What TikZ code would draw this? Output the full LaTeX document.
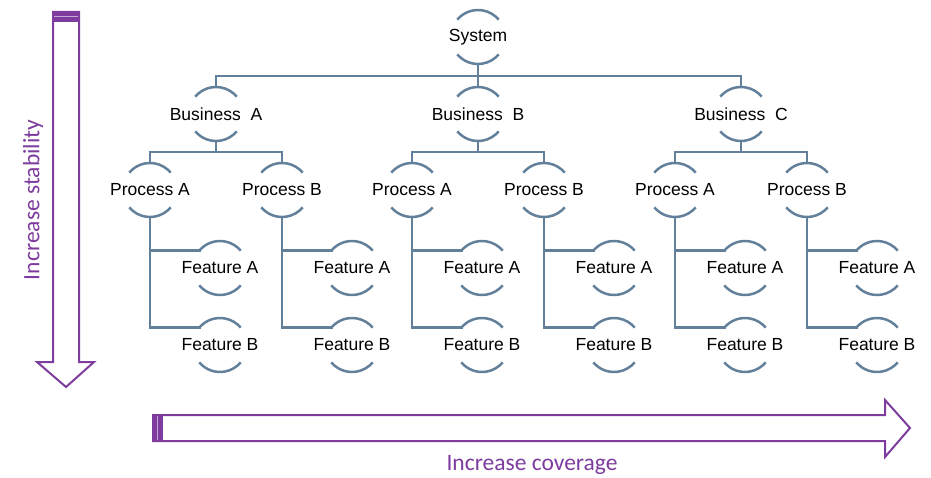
\documentclass[tikz,border=0pt]{standalone}
\usepackage{fontspec}
\setmainfont{Liberation Sans}
\newfontfamily\notefont{Carlito}
\usetikzlibrary{calc}
\definecolor{TreeClr}{RGB}{98,128,154}
\definecolor{ArrowClr}{RGB}{125,60,158}

% Two arcs round a node of the tree.
\newcommand\stagearcs[1]{%
  \draw[rim] ($(#1)+(140:\rr)$) arc[start angle=140,end angle=40,radius=\rr];
  \draw[rim] ($(#1)+(220:\rr)$) arc[start angle=220,end angle=320,radius=\rr];}

\begin{document}
\begin{tikzpicture}[x=1pt,y=1pt,
  link/.style={line width=2.5pt,color=TreeClr,line cap=rect},
  rim/.style={line width=2.5pt,color=TreeClr},
  stage/.style={inner sep=0pt,font=\fontsize{17.5}{20}\selectfont},
  note/.style={color=ArrowClr,font=\notefont\fontsize{23.5}{28}\selectfont},
  band/.style={line width=2pt,color=ArrowClr,line join=miter}]
\useasboundingbox (0,0) rectangle (931,477);
\def\rr{27}

% Root of the tree.
\node[stage] (sys) at (478,440) {System};
\stagearcs{sys}
\draw[link] ($(sys)+(0,-\rr)$) -- ++(0,-12);

% Businesses, processes and features.
\foreach \b/\x in {A/216,B/478,C/741}{
  \node[stage] (bus\b) at (\x,363) {Business\ \ \b};
  \stagearcs{bus\b}
  \draw[link] ($(bus\b)+(0,\rr)$) -- ++(0,11);
  \draw[link] ($(bus\b)+(0,-\rr)$) -- ++(0,-11);
  \foreach \p/\dx in {A/-66,B/66}{
    \node[stage] (proc\b\p) at (\x+\dx,287) {Process \p};
    \node[stage] (feat\b\p-A) at (\x+\dx+70,209) {Feature A};
    \node[stage] (feat\b\p-B) at (\x+\dx+70,132) {Feature B};
    \stagearcs{proc\b\p}
    \stagearcs{feat\b\p-A}
    \stagearcs{feat\b\p-B}
    \draw[link] ($(proc\b\p)+(0,\rr)$) -- ++(0,11);
    \draw[link] ($(proc\b\p)+(0,-\rr)$) |- ($(feat\b\p-B)+(140:\rr)$);
    \draw[link] ($(proc\b\p)+(0,-\rr)$) |- ($(feat\b\p-A)+(140:\rr)$);
  }
  \draw[link] ($(proc\b A)+(0,\rr+11)$) -- ($(proc\b B)+(0,\rr+11)$);
}
\draw[link] ($(busA)+(0,\rr+11)$) -- ($(busC)+(0,\rr+11)$);

% Arrows at the side and at the bottom.
\draw[band] (53,465) -- (53,115) -- (37,115) -- (66,90) -- (94,115) -- (79,115) -- (79,465) -- cycle;
\fill[ArrowClr] (52,466) rectangle (80,455);
\draw[ArrowClr!45,line width=0.8pt] (54,460.5) -- (78,460.5);
\node[note,rotate=90] (stab) at (33,277) {Increase stability};

\draw[band] (153,62) -- (885,62) -- (885,77) -- (910,49) -- (885,20) -- (885,36) -- (153,36) -- cycle;
\fill[ArrowClr] (152,63) rectangle (163,35);
\draw[ArrowClr!45,line width=0.8pt] (157.5,37) -- (157.5,61);
\node[note] (cov) at (532,12) {Increase coverage};
\end{tikzpicture}
\end{document}
